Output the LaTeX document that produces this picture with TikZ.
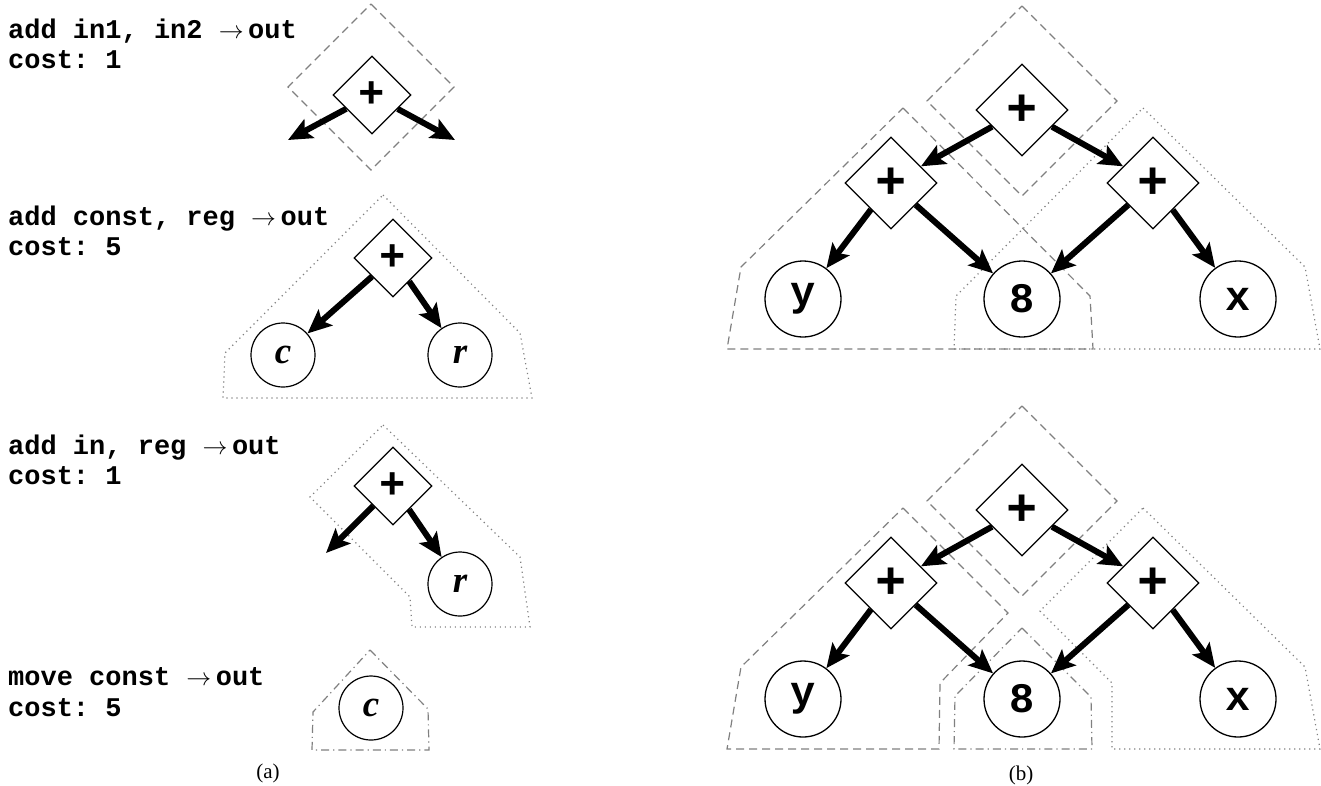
\documentclass[tikz,border=0pt]{standalone}
\usepackage{fontspec}
\setmainfont{Liberation Serif}
\setmonofont{Liberation Mono}
\usetikzlibrary{shapes.geometric,arrows.meta}

\begin{document}
\begin{tikzpicture}[x=1pt,y=-1pt,
  instr/.style={anchor=base west, inner sep=0pt, font=\fontsize{27}{30}\selectfont\ttfamily\bfseries},
  caption/.style={font=\fontsize{21}{21}\selectfont, inner sep=0pt},
  opA/.style={diamond, aspect=1, draw, line width=1.2pt, fill=white, inner sep=0pt,
    minimum width=78pt, minimum height=78pt, font=\fontsize{44}{44}\selectfont\ttfamily\bfseries},
  opB/.style={diamond, aspect=1, draw, line width=1.3pt, fill=white, inner sep=0pt,
    minimum width=92pt, minimum height=92pt, font=\fontsize{52}{52}\selectfont\ttfamily\bfseries},
  leafA/.style={circle, draw, line width=1.2pt, fill=white, inner sep=0pt,
    minimum size=64pt, font=\fontsize{37}{37}\selectfont\bfseries\itshape},
  leafB/.style={circle, draw, line width=1.3pt, fill=white, inner sep=0pt,
    minimum size=76pt, font=\fontsize{42}{42}\selectfont\ttfamily\bfseries},
  arr/.style={line width=6pt, -{Stealth[length=24pt,width=21pt,inset=5pt]}},
  poly/.style={draw=black!50, line width=1.2pt, line join=miter},
  dashpoly/.style={poly, dash pattern=on 8pt off 5pt},
  dotpoly/.style={poly, dash pattern=on 1.2pt off 3.8pt},
  dashdotpoly/.style={poly, dash pattern=on 8pt off 4pt on 1.2pt off 4pt},
]
\useasboundingbox (0,0) rectangle (1321,785);

% ---------------- (a) instruction patterns ----------------
\node[instr] (i1a) at (8,38)  {add in1, in2 $\rightarrow$\,out};
\node[instr] (i1b) at (8,68)  {cost: 1};
\node[instr] (i2a) at (8,225) {add const, reg $\rightarrow$\,out};
\node[instr] (i2b) at (8,255) {cost: 5};
\node[instr] (i3a) at (8,454) {add in, reg $\rightarrow$\,out};
\node[instr] (i3b) at (8,484) {cost: 1};
\node[instr] (i4a) at (8,685) {move const $\rightarrow$\,out};
\node[instr] (i4b) at (8,716) {cost: 5};

% tile outlines
\draw[dashpoly] (371,4) -- (454,87) -- (371,170) -- (288,87) -- cycle;
\draw[dotpoly] (383,195) -- (520,333) -- (532,398) -- (223,398) -- (225,353) -- cycle;
\draw[dotpoly] (383,425) -- (520,557) -- (530,627) -- (412,627) -- (410,597) -- (310,497) -- cycle;
\draw[dashdotpoly] (370,650) -- (428,709) -- (429,750) -- (312,750) -- (313,712) -- cycle;

% add in1, in2
\node[opA] (a1) at (372,95) {+};
\coordinate (a1l) at (288,140);
\coordinate (a1r) at (455,140);
\draw[arr] (a1) -- (a1l);
\draw[arr] (a1) -- (a1r);

% add const, reg
\node[opA] (a2) at (393,258) {+};
\node[leafA] (a2c) at (283,355) {c};
\node[leafA] (a2r) at (460,355) {r};
\draw[arr] (a2) -- (a2c);
\draw[arr] (a2) -- (a2r);

% add in, reg
\node[opA] (a3) at (393,486) {+};
\coordinate (a3l) at (326,553);
\node[leafA] (a3r) at (460,584) {r};
\draw[arr] (a3) -- (a3l);
\draw[arr] (a3) -- (a3r);

% move const
\node[leafA] (a4c) at (371,708) {c};

\node[caption] (capa) at (268,773) {(a)};

% ---------------- (b) two tilings of the same tree ----------------
% first tiling
\draw[dashpoly] (1022,6) -- (1117,101) -- (1022,196) -- (927,101) -- cycle;
\draw[dashpoly] (903,108) -- (1090,296) -- (1093,349) -- (727,349) -- (741,267) -- cycle;
\draw[dotpoly] (1143,108) -- (1305,267) -- (1320,349) -- (954,349) -- (956,296) -- cycle;

\node[opB] (t0) at (1022,110) {+};
\node[opB] (tl) at (891,183) {+};
\node[opB] (tr) at (1153,183) {+};
\node[leafB] (ty) at (803,299) {y};
\node[leafB] (t8) at (1022,299) {8};
\node[leafB] (tx) at (1238,299) {x};
\draw[arr] (t0) -- (tl);
\draw[arr] (t0) -- (tr);
\draw[arr] (tl) -- (ty);
\draw[arr] (tl) -- (t8);
\draw[arr] (tr) -- (t8);
\draw[arr] (tr) -- (tx);

% second tiling
\draw[dashpoly] (1022,406) -- (1117,501) -- (1022,596) -- (927,501) -- cycle;
\draw[dashpoly] (903,508) -- (1008,613) -- (940,683) -- (939,749) -- (727,749) -- (741,667) -- cycle;
\draw[dashdotpoly] (1022,628) -- (1091,697) -- (1092,749) -- (954,749) -- (955,696) -- cycle;
\draw[dotpoly] (1143,508) -- (1305,667) -- (1320,749) -- (1112,749) -- (1112,683) -- (1040,611) -- cycle;

\node[opB] (u0) at (1022,510) {+};
\node[opB] (ul) at (891,583) {+};
\node[opB] (ur) at (1153,583) {+};
\node[leafB] (uy) at (803,699) {y};
\node[leafB] (u8) at (1022,699) {8};
\node[leafB] (ux) at (1238,699) {x};
\draw[arr] (u0) -- (ul);
\draw[arr] (u0) -- (ur);
\draw[arr] (ul) -- (uy);
\draw[arr] (ul) -- (u8);
\draw[arr] (ur) -- (u8);
\draw[arr] (ur) -- (ux);

\node[caption] (capb) at (1021,775) {(b)};
\end{tikzpicture}
\end{document}
